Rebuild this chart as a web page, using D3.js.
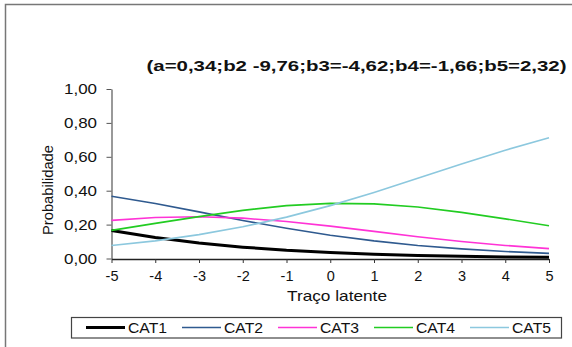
<!doctype html>
<html>
<head>
<meta charset="utf-8">
<title>Curvas de probabilidade por categoria</title>
<script src="https://d3js.org/d3.v7.min.js"></script>
<style>
	body { margin: 0; background: #fff; }
	svg text { font-family: "Liberation Sans", Arial, sans-serif; fill: #111; }
</style>
</head>
<body>
<svg id="chart" width="572" height="347"></svg>
<script>
	// values
	const theta = [-5, -4, -3, -2, -1, 0, 1, 2, 3, 4, 5];
	const cat1 = [0.165, 0.124, 0.091, 0.067, 0.048, 0.035, 0.025, 0.018, 0.013, 0.009, 0.007];
	const cat2 = [0.367, 0.324, 0.275, 0.224, 0.178, 0.137, 0.104, 0.077, 0.057, 0.041, 0.030];
	const cat3 = [0.225, 0.242, 0.246, 0.238, 0.218, 0.191, 0.160, 0.128, 0.100, 0.077, 0.058];
	const cat4 = [0.166, 0.207, 0.247, 0.284, 0.312, 0.325, 0.322, 0.304, 0.272, 0.234, 0.193];
	const cat5 = [0.077, 0.104, 0.141, 0.187, 0.244, 0.312, 0.390, 0.473, 0.558, 0.639, 0.713];

	const seriesNames = ['CAT1', 'CAT2', 'CAT3', 'CAT4', 'CAT5'];
	const seriesValues = [cat1, cat2, cat3, cat4, cat5];
	const seriesColors = ['#000000', '#2f5a8f', '#ff33d6', '#22cc22', '#8cc8de'];
	const seriesWidths = [3, 1.6, 1.6, 1.6, 1.6];

	const xTicks = [-5, -4, -3, -2, -1, 0, 1, 2, 3, 4, 5];
	const yTicks = [0, 0.2, 0.4, 0.6, 0.8, 1];

	const chartTitle = '(a=0,34;b2 -9,76;b3=-4,62;b4=-1,66;b5=2,32)';
	const xLabel = 'Traço latente';
	const yLabel = 'Probabilidade';

	const svg = d3.select('#chart');

	// outer frame (only top and left edges are visible in the crop)
	svg.append('path')
		.attr('d', 'M5.5,347 V4.5 H572')
		.attr('fill', 'none')
		.attr('stroke', '#777')
		.attr('stroke-width', 1.5);

	const xScale = d3.scaleLinear().domain([-5, 5]).range([111.5, 549]);
	const yScale = d3.scaleLinear().domain([0, 1]).range([258.5, 89]);

	const comma = d => d3.format('.2f')(d).replace('.', ',');

	// y axis
	const yAxis = svg.append('g')
		.attr('transform', 'translate(111.5,0)')
		.call(d3.axisLeft(yScale).tickValues(yTicks).tickFormat(comma).tickSize(5).tickSizeOuter(0));
	yAxis.select('.domain').attr('stroke', '#555').attr('stroke-width', 1.2);
	yAxis.selectAll('.tick line').attr('stroke', '#555');
	yAxis.selectAll('.tick text')
		.attr('x', -14.5)
		.style('font-size', '14.5px')
		.attr('textLength', 33)
		.attr('lengthAdjust', 'spacingAndGlyphs');

	// x axis
	const xAxis = svg.append('g')
		.attr('transform', 'translate(0,259)')
		.call(d3.axisBottom(xScale).tickValues(xTicks).tickFormat(d => d).tickSize(4).tickSizeOuter(0));
	xAxis.select('.domain').attr('stroke', '#222').attr('stroke-width', 1.5);
	xAxis.selectAll('.tick line').attr('stroke', '#333');
	xAxis.selectAll('.tick text')
		.attr('y', 12)
		.style('font-size', '14.5px');
	xAxis.selectAll('text').attr('font-family', null);
	yAxis.selectAll('text').attr('font-family', null);

	// series lines, drawn in legend order
	const line = d3.line()
		.x((d, i) => xScale(theta[i]))
		.y(d => yScale(d));

	seriesValues.forEach((vals, k) => {
		svg.append('path')
			.datum(vals)
			.attr('fill', 'none')
			.attr('stroke', seriesColors[k])
			.attr('stroke-width', seriesWidths[k])
			.attr('stroke-linejoin', 'round')
			.attr('d', line);
	});

	// title
	svg.append('text')
		.attr('x', 146.5)
		.attr('y', 71)
		.style('font-size', '15px')
		.style('font-weight', 'bold')
		.attr('textLength', 420)
		.attr('lengthAdjust', 'spacingAndGlyphs')
		.text(chartTitle);

	// axis titles
	svg.append('text')
		.attr('x', 287)
		.attr('y', 300.5)
		.style('font-size', '14.5px')
		.attr('textLength', 100)
		.attr('lengthAdjust', 'spacingAndGlyphs')
		.text(xLabel);

	svg.append('text')
		.attr('transform', 'translate(52.5,235) rotate(-90)')
		.style('font-size', '14.5px')
		.attr('textLength', 90)
		.attr('lengthAdjust', 'spacingAndGlyphs')
		.text(yLabel);

	// legend
	const legend = svg.append('g');
	legend.append('rect')
		.attr('x', 71.5)
		.attr('y', 317.5)
		.attr('width', 490)
		.attr('height', 20.5)
		.attr('fill', '#fff')
		.attr('stroke', '#444')
		.attr('stroke-width', 1.2);

	const legendX = d3.scalePoint().domain(seriesNames).range([86, 470]);
	seriesNames.forEach((name, k) => {
		const g = legend.append('g').attr('transform', 'translate(' + legendX(name) + ',0)');
		g.append('line')
			.attr('x1', 0).attr('x2', 39)
			.attr('y1', 327.5).attr('y2', 327.5)
			.attr('stroke', seriesColors[k])
			.attr('stroke-width', seriesWidths[k]);
		g.append('text')
			.attr('x', 42)
			.attr('y', 332.5)
			.style('font-size', '14.5px')
			.attr('textLength', 39)
			.attr('lengthAdjust', 'spacingAndGlyphs')
			.text(name);
	});
</script>
</body>
</html>
